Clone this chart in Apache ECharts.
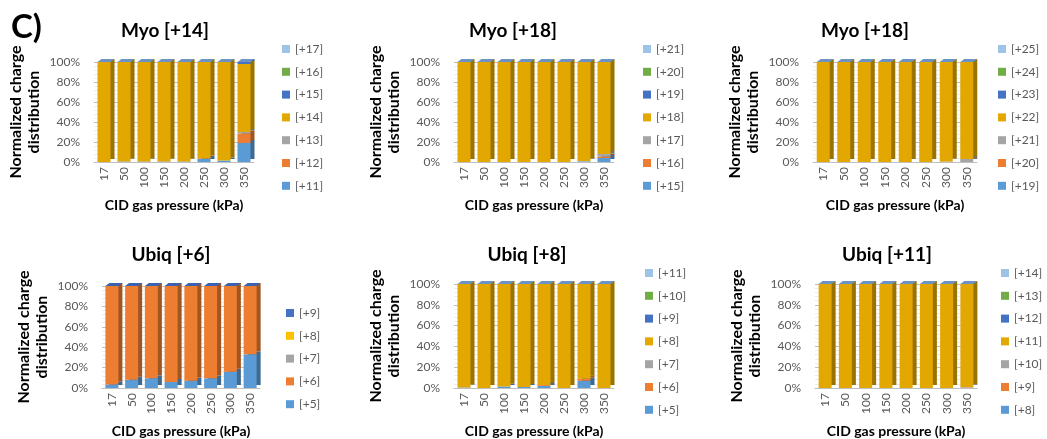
<!DOCTYPE html>
<html>
<head>
<meta charset="utf-8">
<script src="https://cdn.jsdelivr.net/npm/echarts@6/dist/echarts.min.js"></script>
<style>
  html, body { margin: 0; padding: 0; background: #fff; }
  #main { width: 1047px; height: 439px; }
</style>
</head>
<body>
<div id="main"></div>
<script>
// CID gas pressure (kPa)
const pressures = ['17', '50', '100', '150', '200', '250', '300', '350'];

// each panel: charge states bottom -> top, values in % per pressure
const myo14Names = ['[+11]', '[+12]', '[+13]', '[+14]', '[+15]', '[+16]', '[+17]'];
const myo14Values = [
  [0, 0.5, 0.5, 0.5, 0.5, 3, 1.5, 19],
  [0, 0, 0, 0, 0, 0.5, 0, 9.5],
  [0, 0, 0, 0, 0, 0, 0, 1.5],
  [100, 99.5, 99.5, 99.5, 99.5, 96.5, 98.5, 68],
  [0, 0, 0, 0, 0, 0, 0, 2],
  [0, 0, 0, 0, 0, 0, 0, 0],
  [0, 0, 0, 0, 0, 0, 0, 0]
];

const myo18aNames = ['[+15]', '[+16]', '[+17]', '[+18]', '[+19]', '[+20]', '[+21]'];
const myo18aValues = [
  [0, 0, 0, 0, 0, 0, 0.5, 4],
  [0, 0, 0, 0, 0, 0, 0, 1.5],
  [0, 0, 0, 0, 0, 0, 0.5, 2.5],
  [100, 100, 100, 100, 100, 100, 99, 92],
  [0, 0, 0, 0, 0, 0, 0, 0],
  [0, 0, 0, 0, 0, 0, 0, 0],
  [0, 0, 0, 0, 0, 0, 0, 0]
];

const myo18bNames = ['[+19]', '[+20]', '[+21]', '[+22]', '[+23]', '[+24]', '[+25]'];
const myo18bValues = [
  [0, 0, 0, 0, 0, 0, 0, 0],
  [0, 0, 0, 0, 0, 0, 0, 0],
  [0, 0, 0, 0, 0, 0, 0.5, 3],
  [100, 100, 100, 100, 100, 100, 99.5, 97],
  [0, 0, 0, 0, 0, 0, 0, 0],
  [0, 0, 0, 0, 0, 0, 0, 0],
  [0, 0, 0, 0, 0, 0, 0, 0]
];

const ubiq6Names = ['[+5]', '[+6]', '[+7]', '[+8]', '[+9]'];
const ubiq6Values = [
  [3.5, 8, 9.5, 6, 7, 9.5, 16, 33],
  [96.5, 92, 90.5, 94, 93, 90.5, 84, 67],
  [0, 0, 0, 0, 0, 0, 0, 0],
  [0, 0, 0, 0, 0, 0, 0, 0],
  [0, 0, 0, 0, 0, 0, 0, 0]
];

const ubiq8Names = ['[+5]', '[+6]', '[+7]', '[+8]', '[+9]', '[+10]', '[+11]'];
const ubiq8Values = [
  [0.5, 0, 1.5, 1, 2, 0, 7, 0],
  [0, 0, 0, 0, 1, 0, 2, 0],
  [0, 0, 0, 0, 0, 0, 0, 0],
  [99.5, 100, 98.5, 99, 97, 100, 91, 100],
  [0, 0, 0, 0, 0, 0, 0, 0],
  [0, 0, 0, 0, 0, 0, 0, 0],
  [0, 0, 0, 0, 0, 0, 0, 0]
];

const ubiq11Names = ['[+8]', '[+9]', '[+10]', '[+11]', '[+12]', '[+13]', '[+14]'];
const ubiq11Values = [
  [0, 0, 0, 0, 0, 0, 0, 0],
  [0, 0, 0, 0, 0, 0, 0, 0.5],
  [0, 0, 0, 0, 0, 0, 0, 0.5],
  [100, 100, 100, 100, 100, 100, 100, 99],
  [0, 0, 0, 0, 0, 0, 0, 0],
  [0, 0, 0, 0, 0, 0, 0, 0],
  [0, 0, 0, 0, 0, 0, 0, 0]
];

const palette = ['#5B9BD5', '#ED7D31', '#A5A5A5', '#E2A700', '#4472C4', '#70AD47', '#9DC3E6'];
const paletteUbiq6 = ['#5B9BD5', '#ED7D31', '#A5A5A5', '#FFC000', '#4472C4'];

const panels = [
  { key: 'a', title: 'Myo [+14]', tx: 160, ty: 16, grid: [94, 62, 160, 100], lg: [282, 42], names: myo14Names, values: myo14Values, colors: palette, cap: '#6B93C4' },
  { key: 'b', title: 'Myo [+18]', tx: 508, ty: 16, grid: [454, 62, 160, 100], lg: [643, 42], names: myo18aNames, values: myo18aValues, colors: palette, cap: '#6B93C4' },
  { key: 'c', title: 'Myo [+18]', tx: 860, ty: 16, grid: [813, 62, 164, 100], lg: [998, 42], names: myo18bNames, values: myo18bValues, colors: palette, cap: '#6B93C4' },
  { key: 'd', title: 'Ubiq [+6]', tx: 166, ty: 240, grid: [102, 286, 158, 103], lg: [286, 306], names: ubiq6Names, values: ubiq6Values, colors: paletteUbiq6, cap: '#3A62AE' },
  { key: 'e', title: 'Ubiq [+8]', tx: 522, ty: 240, grid: [454, 284, 160, 104], lg: [645, 266], names: ubiq8Names, values: ubiq8Values, colors: palette, cap: '#6B93C4' },
  { key: 'f', title: 'Ubiq [+11]', tx: 882, ty: 240, grid: [815, 284, 162, 104], lg: [1001, 266], names: ubiq11Names, values: ubiq11Values, colors: palette, cap: '#6B93C4' }
];

const FONT = 'Lato';
const BAR_W = 13;

function darken(hex, f) {
  const n = parseInt(hex.slice(1), 16);
  const r = Math.round(((n >> 16) & 255) * f);
  const g = Math.round(((n >> 8) & 255) * f);
  const b = Math.round((n & 255) * f);
  return 'rgb(' + r + ',' + g + ',' + b + ')';
}

const titles = [{
  text: 'C)', left: 6, top: 6,
  textStyle: { fontFamily: FONT, fontSize: 33, fontWeight: 'bold', color: '#000' }
}];
const grids = [], xAxes = [], yAxes = [], legends = [], series = [];

panels.forEach((p, i) => {
  titles.push({
    text: p.title, left: p.tx, top: p.ty, textAlign: 'center',
    textStyle: { fontFamily: FONT, fontSize: 19, fontWeight: 'bold', color: '#000' }
  });
  grids.push({ left: p.grid[0], top: p.grid[1], width: p.grid[2], height: p.grid[3] });
  xAxes.push({
    type: 'category', gridIndex: i, data: pressures,
    name: 'CID gas pressure (kPa)', nameLocation: 'middle', nameGap: 36,
    nameTextStyle: { fontFamily: FONT, fontSize: 14, fontWeight: 'bold', color: '#000' },
    axisLine: { lineStyle: { color: '#bfbfbf' } },
    axisTick: { show: false },
    axisLabel: { rotate: 90, fontFamily: FONT, fontSize: 12, color: '#595959', margin: 5 }
  });
  yAxes.push({
    type: 'value', gridIndex: i, min: 0, max: 100, interval: 20,
    name: 'Normalized charge\ndistribution', nameLocation: 'middle', nameRotate: 90, nameGap: 51,
    nameTextStyle: { fontFamily: FONT, fontSize: 16, fontWeight: 'bold', color: '#000', lineHeight: 18 },
    axisLine: { show: false },
    axisTick: { show: false },
    axisLabel: { formatter: '{value}%', fontFamily: FONT, fontSize: 12, color: '#595959', margin: 14 },
    splitLine: { lineStyle: { color: '#bfbfbf' } },
    minorTick: { show: false, splitNumber: 5 },
    minorSplitLine: { show: true, lineStyle: { color: '#ececec' } }
  });
  const fullNames = p.names.map(n => p.key + '|' + n);
  legends.push({
    orient: 'vertical', left: p.lg[0], top: p.lg[1], padding: 0,
    icon: 'rect', itemWidth: 8, itemHeight: 8, itemGap: 8.8,
    selectedMode: false,
    data: fullNames.slice().reverse(),
    formatter: n => n.split('|')[1],
    textStyle: { fontFamily: FONT, fontSize: 12, color: '#595959', lineHeight: 14 }
  });
  p.names.forEach((n, j) => {
    const c = p.colors[j];
    series.push({
      name: fullNames[j], type: 'bar', stack: 'p' + i,
      xAxisIndex: i, yAxisIndex: i, barWidth: BAR_W,
      data: p.values[j],
      itemStyle: { color: c, shadowColor: darken(c, 0.68), shadowOffsetX: 4, shadowOffsetY: -3, shadowBlur: 0 },
      emphasis: { disabled: true }
    });
  });
  // top face of each 3D column, placed at the stack total
  const totals = pressures.map((_, k) => [k, p.values.reduce((s, row) => s + row[k], 0)]);
  series.push({
    name: p.key + '|cap', type: 'custom', coordinateSystem: 'cartesian2d',
    xAxisIndex: i, yAxisIndex: i, silent: true, z: 5,
    encode: { x: 0, y: 1 },
    data: totals,
    renderItem: (params, api) => {
      const pt = api.coord([api.value(0), api.value(1)]);
      const l = pt[0] - BAR_W / 2, r = pt[0] + BAR_W / 2, y = pt[1];
      return {
        type: 'polygon',
        shape: { points: [[l, y], [r, y], [r + 4, y - 3], [l + 4, y - 3]] },
        style: { fill: p.cap }
      };
    }
  });
});

const chart = echarts.init(document.getElementById('main'));
chart.setOption({
  animation: false,
  backgroundColor: '#fff',
  title: titles,
  grid: grids,
  xAxis: xAxes,
  yAxis: yAxes,
  legend: legends,
  series: series
});
</script>
</body>
</html>
